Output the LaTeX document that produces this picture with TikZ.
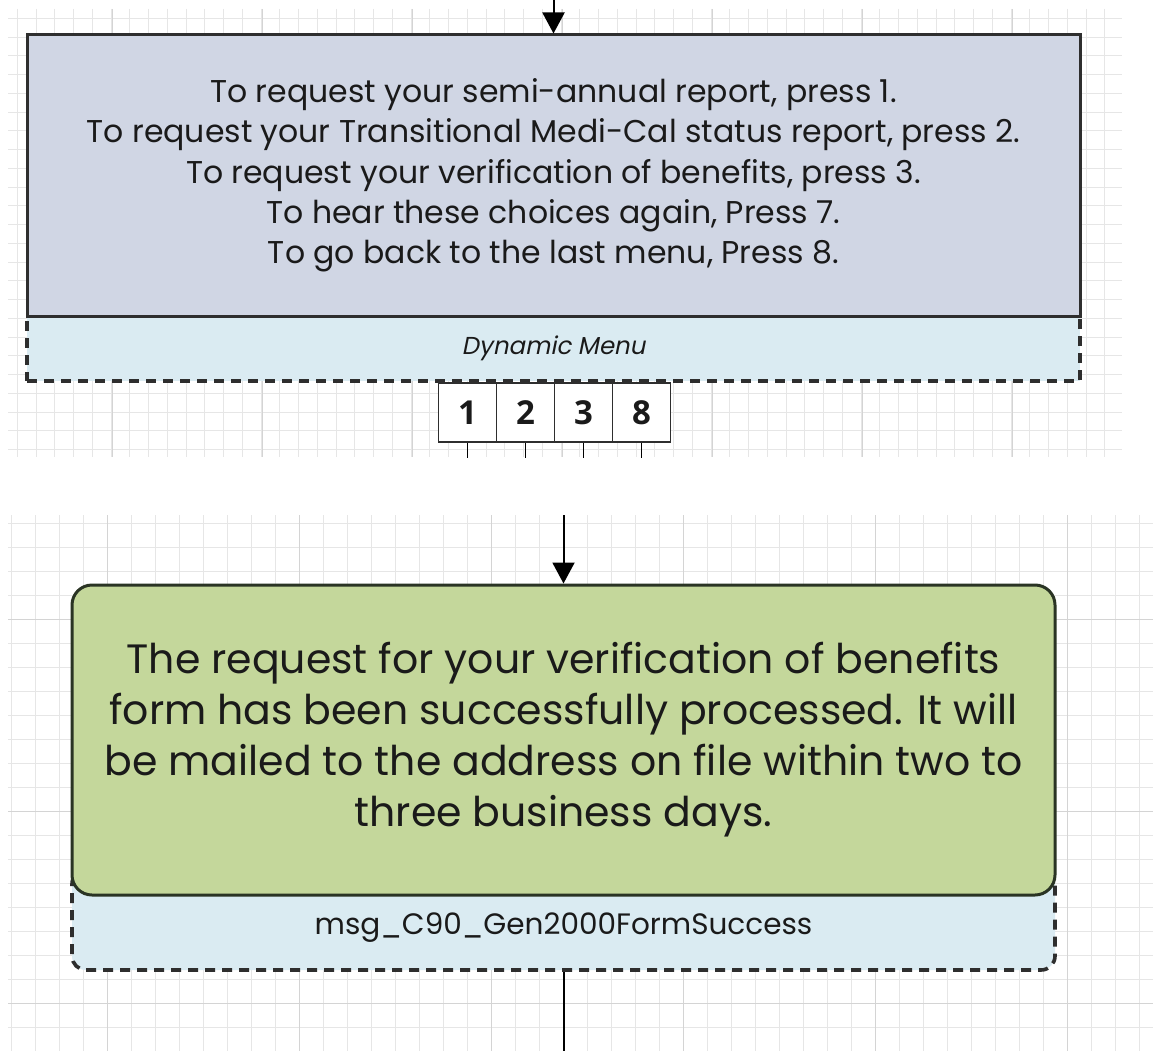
\documentclass[tikz,border=0pt]{standalone}
\usepackage{fontspec}
\setmainfont{Poppins}
\newfontfamily\slfont[FakeSlant=0.2]{Poppins}
\newfontfamily\keyfont{Open Sans}
\usetikzlibrary{arrows.meta}
\definecolor{gridminor}{HTML}{E6E6E6}
\definecolor{gridmajor}{HTML}{D4D4D4}
\definecolor{menufill}{HTML}{D0D6E4}
\definecolor{lblfill}{HTML}{DAEBF2}
\definecolor{msgfill}{HTML}{C4D79B}
\definecolor{edge}{HTML}{2E2E2E}
\definecolor{greenedge}{HTML}{2A3424}
\definecolor{txt}{HTML}{1A1A1A}
\tikzset{
  gminor/.style={draw=gridminor, line width=0.8pt},
  gmajor/.style={draw=gridmajor, line width=0.9pt},
  menubox/.style={draw=edge, line width=3pt, fill=menufill, rectangle, inner sep=0pt,
    minimum width=1053pt, minimum height=281pt, align=center, text=txt,
    font=\fontsize{31.5}{40.3}\selectfont},
  lblbox/.style={draw=edge, line width=3.6pt, dash pattern=on 10pt off 7pt, fill=lblfill,
    rectangle, inner sep=0pt, text=txt},
  keybox/.style={draw=edge, line width=1.8pt, fill=white, rectangle, inner sep=0pt,
    minimum width=58pt, minimum height=59pt, text=txt, font=\keyfont\bfseries\fontsize{33}{34}\selectfont},
  msgbox/.style={draw=greenedge, line width=3pt, fill=msgfill, rectangle, rounded corners=20pt,
    inner sep=0pt, minimum width=983pt, minimum height=310pt, align=center, text=txt,
    font=\fontsize{41}{51}\selectfont},
  conn/.style={draw=black, line width=2pt},
  arr/.style={conn, -{Triangle[width=22pt,length=21pt]}},
}
\begin{document}
\begin{tikzpicture}[x=1pt,y=-1pt]
\useasboundingbox[fill=white] (0,0) rectangle (1153,1051);
% top grid
\begin{scope}
\clip (8,9) rectangle (1122,457);
\foreach \i in {0,...,61} { \draw[gminor] ({-1.45+18.75*\i},9) -- ++(0,448); }
\foreach \i in {1,...,25} { \draw[gminor] (8,{-0.45+18.75*\i}) -- ++(1114,0); }
\foreach \i in {0,...,7} { \draw[gmajor] ({112+150*\i},9) -- ++(0,448); }
\end{scope}
% bottom grid
\begin{scope}
\clip (8,515) rectangle (1153,1051);
\foreach \i in {0,...,48} { \draw[gminor] ({11+24*\i},515) -- ++(0,536); }
\foreach \i in {21,...,43} { \draw[gminor] (8,{19+24*\i}) -- ++(1145,0); }
\foreach \i in {0,...,5} { \draw[gmajor] ({107+192*\i},515) -- ++(0,536); }
\foreach \i in {0,...,3} { \draw[gmajor] (8,{1003-192*\i}) -- ++(1145,0); }
\end{scope}
% top menu
\node[lblbox, minimum width=1053pt, minimum height=65pt, font=\slfont\fontsize{24.5}{26}\selectfont] (menulbl) at (553.5,348.5) {Dynamic Menu};
\node[menubox] (menu) at (553.5,175.5) {To request your semi-annual report, press 1.\\To request your Transitional Medi-Cal status report, press 2.\\To request your verification of benefits, press 3.\\To hear these choices again, Press 7.\\To go back to the last menu, Press 8.};
\coordinate (topin) at (553.5,0);
\draw[arr] (topin) -- (menu.north);
% keys
\node[keybox] (k1) at (467.5,412.5) {1};
\node[keybox] (k2) at (525.5,412.5) {2};
\node[keybox] (k3) at (583.5,412.5) {3};
\node[keybox] (k8) at (641.5,412.5) {8};
\coordinate (o1) at (467.5,458);
\coordinate (o2) at (525.5,458);
\coordinate (o3) at (583.5,458);
\coordinate (o8) at (641.5,458);
\draw[conn, line width=1.6pt] (k1.south) -- (o1);
\draw[conn, line width=1.6pt] (k2.south) -- (o2);
\draw[conn, line width=1.6pt] (k3.south) -- (o3);
\draw[conn, line width=1.6pt] (k8.south) -- (o8);
% bottom message
\node[lblbox, rounded corners=14pt, minimum width=983pt, minimum height=100pt] (msgback) at (563.5,920) {};
\node[msgbox] (msg) at (563.5,740) {The request for your verification of benefits\\form has been successfully processed. It will\\be mailed to the address on file within two to\\three business days.};
\node[text=txt, font=\fontsize{29.5}{31}\selectfont, inner sep=0pt] (msglbl) at (563.5,928) {msg\_C90\_Gen2000FormSuccess};
\coordinate (botin) at (563.5,515);
\coordinate (botout) at (563.5,1051);
\draw[arr] (botin) -- (msg.north);
\draw[conn] (msgback.south) -- (botout);
\end{tikzpicture}
\end{document}
